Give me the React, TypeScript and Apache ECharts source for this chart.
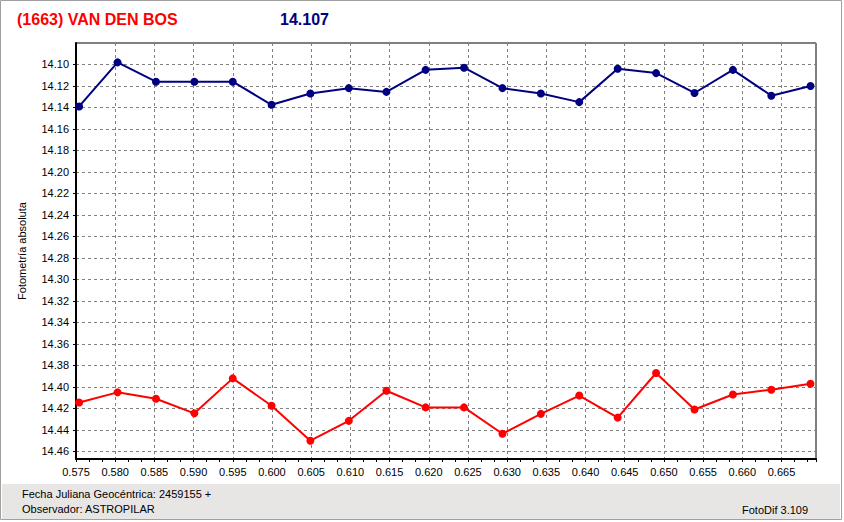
import React, { useEffect, useRef } from "react";
import * as echarts from "echarts";

const xValues = [
  0.5754, 0.5803, 0.5852, 0.5901, 0.595, 0.59995, 0.6049, 0.6098, 0.6146, 0.6196,
  0.6245, 0.6294, 0.6343, 0.6392, 0.6441, 0.649, 0.6539, 0.6588, 0.6637, 0.6687,
];
const blueValues = [
  14.139, 14.098, 14.116, 14.116, 14.116, 14.1375, 14.127, 14.122, 14.1255, 14.105,
  14.103, 14.122, 14.127, 14.135, 14.104, 14.108, 14.1265, 14.105, 14.129, 14.12,
];
const redValues = [
  14.4145, 14.405, 14.411, 14.4245, 14.392, 14.4175, 14.45, 14.4315, 14.4035, 14.419,
  14.419, 14.4435, 14.425, 14.408, 14.4285, 14.387, 14.421, 14.407, 14.4025, 14.397,
];
const titleText = "(1663) VAN DEN BOS";
const magnitudeText = "14.107";
const yAxisTitle = "Fotometría absoluta";
const footerLine1 = "Fecha Juliana Geocéntrica: 2459155 +";
const footerLine2 = "Observador: ASTROPILAR";
const footerRight = "FotoDif 3.109";

const FONT = "'Liberation Sans', Arial, sans-serif";

export default function App() {
  const ref = useRef<HTMLDivElement>(null);
  useEffect(() => {
    if (!ref.current) return;
    const chart = echarts.init(ref.current, undefined, { renderer: "svg" });
    const blueData = xValues.map((x, i) => [x, blueValues[i]]);
    const redData = xValues.map((x, i) => [x, redValues[i]]);
    chart.setOption({
      animation: false,
      backgroundColor: "#ffffff",
      textStyle: { fontFamily: FONT },
      grid: {
        left: 76,
        right: 28,
        top: 43,
        bottom: 63,
        show: true,
        borderColor: "#000000",
        borderWidth: 1,
        backgroundColor: "#ffffff",
      },
      xAxis: {
        type: "value",
        min: 0.575,
        max: 0.6694,
        interval: 0.005,
        axisLine: { show: true, onZero: false, lineStyle: { color: "#000", width: 2 } },
        axisTick: { show: true, length: 3, lineStyle: { color: "#000" } },
        minorTick: { show: true, splitNumber: 3, length: 3, lineStyle: { color: "#000" } },
        axisLabel: {
          color: "#000",
          fontSize: 11,
          fontFamily: FONT,
          margin: 7,
          showMaxLabel: false,
          formatter: (v: number) => v.toFixed(3),
        },
        splitLine: { show: true, lineStyle: { color: "#808080", type: [3, 3], width: 1 } },
      },
      yAxis: {
        type: "value",
        inverse: true,
        min: 14.08,
        max: 14.467,
        interval: 0.02,
        axisLine: { show: true, onZero: false, lineStyle: { color: "#000", width: 2 } },
        axisTick: { show: true, length: 3, lineStyle: { color: "#000" } },
        axisLabel: {
          color: "#000",
          fontSize: 11,
          fontFamily: FONT,
          margin: 7,
          showMinLabel: false,
          showMaxLabel: false,
          formatter: (v: number) => v.toFixed(2),
        },
        splitLine: { show: true, lineStyle: { color: "#808080", type: [3, 3], width: 1 } },
      },
      series: [
        {
          type: "line",
          data: blueData,
          symbol: "circle",
          symbolSize: 8,
          lineStyle: { color: "#000080", width: 2 },
          itemStyle: { color: "#000080" },
        },
        {
          type: "line",
          data: redData,
          symbol: "circle",
          symbolSize: 8,
          lineStyle: { color: "#ff0000", width: 2 },
          itemStyle: { color: "#ff0000" },
        },
      ],
      graphic: [
        {
          type: "rect",
          silent: true,
          shape: { x: 2, y: 484, width: 838, height: 35 },
          style: { fill: "#e8e6e4" },
          z: -1,
        },
        {
          type: "rect",
          silent: true,
          shape: { x: 0.5, y: 0.5, width: 841, height: 519 },
          style: { fill: "none", stroke: "#a0a0a0", lineWidth: 1 },
        },
        {
          type: "text",
          x: 17,
          y: 19,
          style: {
            text: titleText,
            fill: "#ff0000",
            font: `bold 16px ${FONT}`,
            verticalAlign: "middle",
          },
        },
        {
          type: "text",
          x: 280,
          y: 19,
          style: {
            text: magnitudeText,
            fill: "#000080",
            font: `bold 16px ${FONT}`,
            verticalAlign: "middle",
          },
        },
        {
          type: "text",
          x: 22,
          y: 251,
          rotation: Math.PI / 2,
          style: {
            text: yAxisTitle,
            fill: "#000",
            font: `11px ${FONT}`,
            align: "center",
            verticalAlign: "middle",
          },
        },
        {
          type: "text",
          x: 22,
          y: 494,
          style: { text: footerLine1, fill: "#000", font: `11px ${FONT}`, verticalAlign: "middle" },
        },
        {
          type: "text",
          x: 22,
          y: 509,
          style: { text: footerLine2, fill: "#000", font: `11px ${FONT}`, verticalAlign: "middle" },
        },
        {
          type: "text",
          x: 742,
          y: 510,
          style: { text: footerRight, fill: "#000", font: `11px ${FONT}`, verticalAlign: "middle" },
        },
      ],
    });
    return () => chart.dispose();
  }, []);
  return (
    <div
      ref={ref}
      style={{ position: "fixed", left: 0, top: 0, width: 844, height: 522 }}
    />
  );
}
